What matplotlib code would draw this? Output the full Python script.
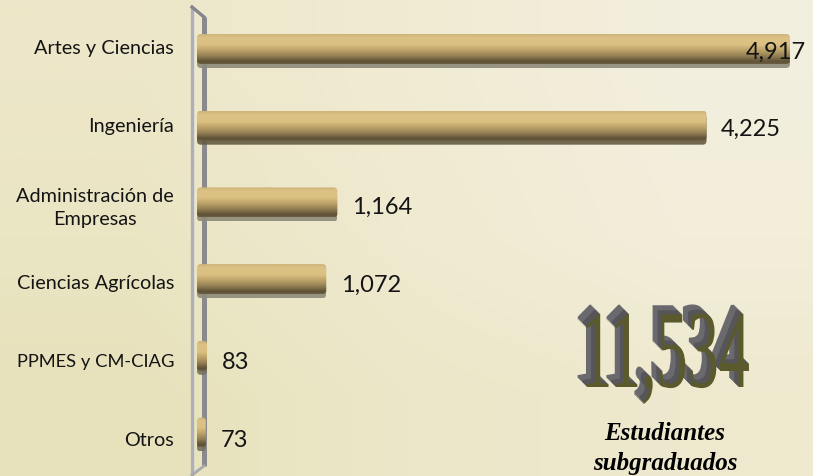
import matplotlib
matplotlib.use('Agg')
import matplotlib.pyplot as plt
import matplotlib.patheffects as pe
from matplotlib.colors import LinearSegmentedColormap, to_rgb
from matplotlib.patches import FancyBboxPatch
from matplotlib.transforms import Affine2D
import numpy as np

# Data
categories = ['Artes y Ciencias', 'Ingeniería', 'Administración de\nEmpresas',
              'Ciencias Agrícolas', 'PPMES y CM-CIAG', 'Otros']
values = [4917, 4225, 1164, 1072, 83, 73]
value_labels = ['4,917', '4,225', '1,164', '1,072', '83', '73']
total_label = '11,534'
caption_lines = ['Estudiantes', 'subgraduados']

W, H = 813, 477
plt.rcParams['font.family'] = ['Lato', 'DejaVu Sans']
fig = plt.figure(figsize=(W / 100, H / 100), dpi=100)


# squeezes a text horizontally and shifts it, so the big number stays real text
class Squeeze(pe.AbstractPathEffect):
    def __init__(self, x0, sx, dx=0, dy=0, color=None):
        super().__init__()
        self.x0, self.sx, self.dx, self.dy = x0, sx, dx, dy
        self.color = to_rgb(color) if color else None

    def draw_path(self, renderer, gc, tpath, affine, rgbFace=None):
        t = affine + Affine2D().translate(-self.x0, 0).scale(self.sx, 1).translate(self.x0 + self.dx, self.dy)
        renderer.draw_path(gc, tpath, t, self.color or rgbFace)


# background
bg = fig.add_axes([0, 0, 1, 1], zorder=0)
grid = [['#EDE7C9', '#F0EBD2', '#F3EFDE'],
        ['#EAE5C3', '#EFEAD0', '#F2EEDA'],
        ['#E7E2BB', '#ECE7C8', '#EEE9CE']]
bg.imshow(np.array([[to_rgb(c) for c in row] for row in grid]), aspect='auto',
          interpolation='bilinear', extent=(0, W, H, 0))
bg.set_xlim(0, W)
bg.set_ylim(H, 0)
bg.axis('off')

# chart wall, in pixels of the bg axes
bg.plot([192, 192], [7, H], color='#ADB0BA', lw=2.4, solid_capstyle='butt')
bg.plot([204, 204], [18, 467], color='#8A8A8C', lw=3.6, solid_capstyle='butt')
bg.plot([192, 204], [8, 18], color='#85858C', lw=2.4)
bg.plot([192, 204], [476, 467], color='#A9A9AE', lw=2)

# bars
ax = fig.add_axes([197 / W, 0, 1 - 197 / W, 1], zorder=1)
ax.patch.set_alpha(0)
y = np.arange(len(categories))
bar_y = y * 76.7 / 77
bar_h = 30 / 77
shadow_colors = ['#8E8A7A', '#665B41', '#8E8A7A', '#8E8A7A', '#77725F', '#77725F']
rx, ry = 32, 4 / 77


def rounded(box):
    p = FancyBboxPatch((box.x0, min(box.y0, box.y1)), box.width, abs(box.height),
                       boxstyle=f'round,pad=0,rounding_size={rx}', mutation_aspect=ry / rx,
                       transform=ax.transData, fc='none', ec='none')
    ax.add_patch(p)
    return p


shadows = ax.barh(bar_y + 4 / 77, values, height=bar_h, color=shadow_colors, alpha=0.9)
bars = ax.barh(bar_y, values, height=bar_h, color='none')
for s in shadows:
    s.set_clip_path(rounded(s.get_bbox()))

cmap = LinearSegmentedColormap.from_list('bar', [
    (0.0, '#CDB478'), (0.12, '#DCC285'), (0.35, '#DBC082'), (0.55, '#BBA168'),
    (0.75, '#8F7C52'), (0.92, '#5E5136'), (1.0, '#6A5D42')])
for b in bars:
    box = b.get_bbox()
    im = ax.imshow(np.linspace(0, 1, 64).reshape(-1, 1), cmap=cmap, aspect='auto',
                   extent=(box.x0, box.x1, max(box.y0, box.y1), min(box.y0, box.y1)),
                   origin='upper', zorder=3)
    im.set_clip_path(rounded(box))

ax.set_xlim(0, (W - 197) / 0.1206)
ax.set_ylim(427 / 77, -50 / 77)
ax.set_xticks([])
ax.set_yticks(-0.04 + y * 1.018)
ax.set_yticklabels(categories, fontsize=14.3, ha='right', multialignment='center', linespacing=1.45,
                   color='#141414')
ax.get_yticklabels()[4].set_fontsize(13.2)
ax.tick_params(axis='y', length=0, pad=16.5)
for s in ax.spines.values():
    s.set_visible(False)

# value labels
for i, (v, lab) in enumerate(zip(values, value_labels)):
    off = -32 if i == 0 else 10.5
    ax.annotate(lab, (v, i * 1.008), xytext=(off, 0), textcoords='offset points',
                va='center_baseline', ha='left', fontsize=17, color='#141414', zorder=5)

# total, anchored right so its unsqueezed box stays inside the figure
anchor = 811
t = bg.text(anchor, 388, total_label, family='Liberation Serif',
            fontsize=80, ha='right', va='baseline', color='#55552A')
sx = 0.56
shift = 750 - anchor
x0 = bg.transData.transform((anchor, 0))[0]
effects = []
for k in np.arange(9, 0, -1):
    shade = '#6A6A6E' if k > 4 else '#56565A'
    effects.append(Squeeze(x0, sx, shift - k, k, shade))
effects.append(Squeeze(x0, sx, shift, 0, '#5A5A2C'))
t.set_path_effects(effects)

# caption
for line, base in zip(caption_lines, [440, 470]):
    bg.text(665, base, line, family='Liberation Serif', fontweight='bold', style='italic',
            fontsize=18, ha='center', va='baseline', color='black')

fig.savefig('out.png', dpi=100)
